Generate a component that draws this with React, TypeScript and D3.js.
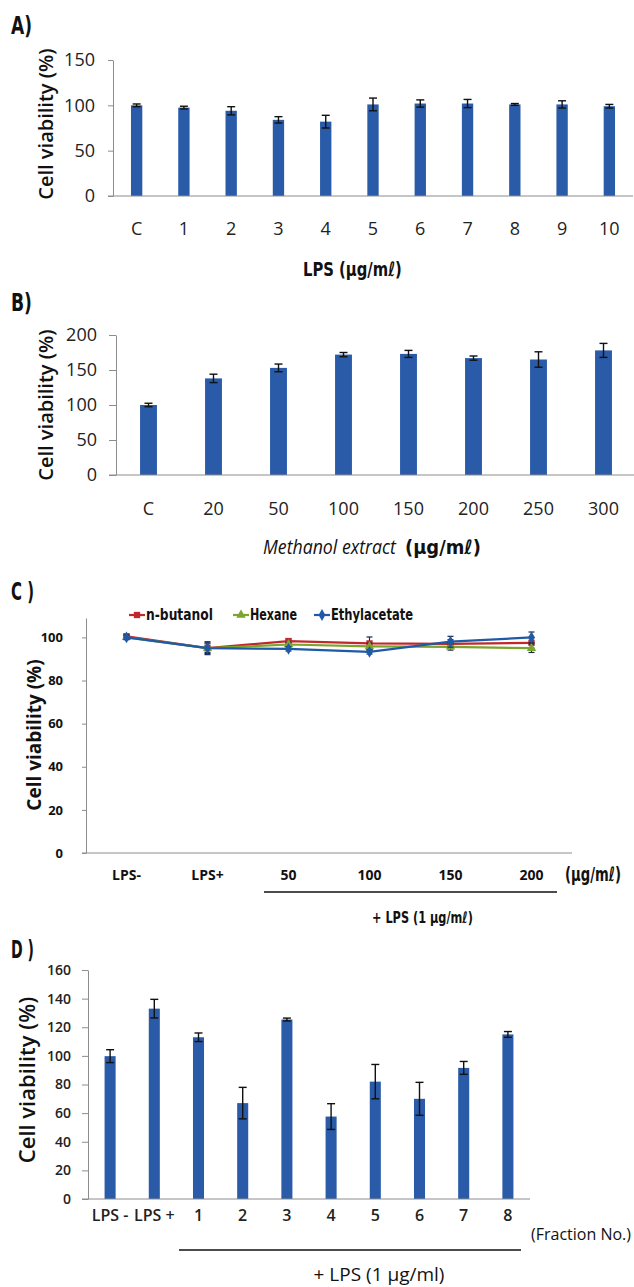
import React, { useEffect, useRef } from "react";
import * as d3 from "d3";

// A) LPS dose
const aCategories = ["C", "1", "2", "3", "4", "5", "6", "7", "8", "9", "10"];
const aValues = [100, 97.5, 94, 84, 82, 101, 102, 102, 101, 101, 99];
const aErrors = [1.5, 1.5, 4.5, 3.5, 7, 7, 4, 4.5, 1, 4, 2];
const aTicks = [0, 50, 100, 150];

// B) methanol extract
const bCategories = ["C", "20", "50", "100", "150", "200", "250", "300"];
const bValues = [100, 138, 153, 172, 173, 167, 165, 178];
const bErrors = [2.5, 6, 5.5, 3, 5, 3, 11, 10];
const bTicks = [0, 50, 100, 150, 200];

// C) solvent fractions
const cCategories = ["LPS-", "LPS+", "50", "100", "150", "200"];
const butanolValues = [100.5, 95, 98.3, 97.2, 97, 97.5];
const butanolErrors = [1, 3, 1, 3, 2, 2.5];
const hexaneValues = [100, 95, 96.7, 95.8, 95.6, 95];
const hexaneErrors = [1, 2.5, 1, 1.5, 1.5, 2];
const ethylValues = [100, 95, 94.7, 93.3, 98, 100];
const ethylErrors = [1, 2, 1, 1, 2.5, 2.5];
const cTicks = [0, 20, 40, 60, 80, 100];

// D) fractions
const dCategories = ["LPS -", "LPS +", "1", "2", "3", "4", "5", "6", "7", "8"];
const dValues = [99.8, 133, 113, 67, 125.4, 57.6, 82, 70, 91.6, 115];
const dErrors = [4.5, 6.5, 3, 11, 1, 9, 12, 11.5, 4.5, 2];
const dTicks = [0, 20, 40, 60, 80, 100, 120, 140, 160];

const BLUE = "#2a5ba8";
const AXIS = "#8c8c8c";
const SANS = "'Open Sans', 'Noto Sans', sans-serif";
const NARROW = "'Liberation Sans Narrow', 'DejaVu Sans Condensed', 'Roboto Condensed', 'Roboto', sans-serif";

// text measured, then squeezed horizontally to the width it has in the figure
function squeezed(sel, x, y, size, len, txt, family = NARROW, weight = 700, style = "normal") {
  const g = sel.append("g");
  const t = g.append("text")
    .attr("font-family", family).attr("font-size", size).attr("font-weight", weight)
    .attr("font-style", style).attr("fill", "#111")
    .text(txt);
  const w = t.node().getComputedTextLength() || len;
  g.attr("transform", `translate(${x},${y}) scale(${len / w},1)`);
  return g;
}

function barPanel(svg, o) {
  const g = svg.append("g");
  const x = d3
    .scaleBand()
    .domain(o.cats)
    .range([o.left, o.right])
    .paddingInner(o.pad)
    .paddingOuter(o.pad / 2);
  const y = d3.scaleLinear().domain([0, o.max]).range([o.bottom, o.top]);

  const ya = g
    .append("g")
    .attr("transform", `translate(${o.left},0)`)
    .call(d3.axisLeft(y).tickValues(o.ticks).tickSize(o.tickSize).tickSizeOuter(0).tickPadding(o.tickPad));
  ya.select(".domain").attr("stroke", AXIS);
  ya.selectAll(".tick line").attr("stroke", AXIS);
  ya.selectAll(".tick text")
    .attr("font-family", SANS)
    .attr("font-size", o.tickFont)
    .attr("font-weight", o.tickWeight)
    .attr("fill", "#222");

  g.selectAll("rect.bar")
    .data(o.values)
    .join("rect")
    .attr("class", "bar")
    .attr("x", (d, i) => x(o.cats[i]))
    .attr("y", (d) => y(d))
    .attr("width", x.bandwidth())
    .attr("height", (d) => y(0) - y(d))
    .attr("fill", BLUE);

  g.append("line")
    .attr("x1", o.left - o.tickSize)
    .attr("x2", o.right)
    .attr("y1", y(0))
    .attr("y2", y(0))
    .attr("stroke", AXIS);

  // error bars
  const eb = g.selectAll("g.err").data(o.values).join("g").attr("class", "err");
  eb.each(function (d, i) {
    const cx = x(o.cats[i]) + x.bandwidth() / 2;
    const e = o.errors[i];
    const s = d3.select(this);
    s.append("line").attr("x1", cx).attr("x2", cx).attr("y1", y(d - e)).attr("y2", y(d + e));
    s.append("line").attr("x1", cx - 4).attr("x2", cx + 4).attr("y1", y(d - e)).attr("y2", y(d - e));
    s.append("line").attr("x1", cx - 4).attr("x2", cx + 4).attr("y1", y(d + e)).attr("y2", y(d + e));
    s.selectAll("line").attr("stroke", "#111").attr("stroke-width", 1.4);
  });

  g.selectAll("text.xl")
    .data(o.cats)
    .join("text")
    .attr("class", "xl")
    .attr("x", (d) => x(d) + x.bandwidth() / 2)
    .attr("y", o.labelY)
    .attr("text-anchor", "middle")
    .attr("font-family", SANS)
    .attr("font-size", o.xFont)
    .attr("font-weight", o.xWeight)
    .attr("fill", "#222")
    .text((d) => d);

  g.append("text")
    .attr("transform", `translate(${o.yLabelX},${o.yLabelY}) rotate(-90)`)
    .attr("text-anchor", "middle")
    .attr("dominant-baseline", "middle")
    .attr("font-family", SANS)
    .attr("font-size", o.yLabelFont)
    .attr("font-weight", 600)
    .attr("fill", "#111")
    .text("Cell viability (%)");
  return { g, x, y };
}

export default function App() {
  const ref = useRef(null);

  useEffect(() => {
    const svg = d3.select(ref.current);
    svg.selectAll("*").remove();

    // ---------- A ----------
    squeezed(svg, 11, 34, 24, 21, "A)");
    barPanel(svg, {
      cats: aCategories, values: aValues, errors: aErrors, ticks: aTicks, max: 150,
      left: 113, right: 633, top: 60, bottom: 196, pad: 0.76,
      tickSize: 5, tickPad: 13, tickFont: 18, tickWeight: 400,
      labelY: 235, xFont: 18, xWeight: 400,
      yLabelX: 48, yLabelY: 124, yLabelFont: 20,
    });
    squeezed(svg, 303, 276, 20, 99, "LPS (μg/mℓ)");

    // ---------- B ----------
    squeezed(svg, 11, 311, 24, 21, "B)");
    barPanel(svg, {
      cats: bCategories, values: bValues, errors: bErrors, ticks: bTicks, max: 200,
      left: 116, right: 636, top: 335, bottom: 475, pad: 0.74,
      tickSize: 7, tickPad: 12, tickFont: 18, tickWeight: 400,
      labelY: 515, xFont: 18, xWeight: 400,
      yLabelX: 48, yLabelY: 405, yLabelFont: 20,
    });
    squeezed(svg, 263, 554, 20, 133, "Methanol extract", SANS, 400, "italic");
    squeezed(svg, 405, 554, 20, 76, "(μg/mℓ)");

    // ---------- C ----------
    squeezed(svg, 11, 600, 24, 23, "C )");
    const cg = svg.append("g");
    const cx = d3.scaleBand().domain(cCategories).range([86, 572]);
    const cy = d3.scaleLinear().domain([0, 109]).range([853, 618]);
    const cya = cg.append("g").attr("transform", "translate(86,0)")
      .call(d3.axisLeft(cy).tickValues(cTicks).tickSize(4).tickSizeOuter(0).tickPadding(19));
    cya.select(".domain").attr("stroke", AXIS);
    cya.selectAll(".tick line").attr("stroke", AXIS);
    cya.selectAll(".tick text").attr("font-family", SANS).attr("font-size", 13).attr("font-weight", 700).attr("fill", "#111");
    cg.append("line").attr("x1", 82).attr("x2", 572).attr("y1", cy(0)).attr("y2", cy(0)).attr("stroke", AXIS);
    cg.selectAll("text.xl").data(cCategories).join("text").attr("class", "xl")
      .attr("x", (d) => cx(d) + cx.bandwidth() / 2).attr("y", 880).attr("text-anchor", "middle")
      .attr("font-family", SANS).attr("font-size", 14).attr("font-weight", 700).attr("fill", "#111")
      .text((d) => d);
    squeezed(cg, 565, 881, 20, 56, "(μg/mℓ)");
    cg.append("line").attr("x1", 264).attr("x2", 557).attr("y1", 892).attr("y2", 892).attr("stroke", "#111").attr("stroke-width", 1.5);
    squeezed(cg, 372, 923, 16, 101, "+ LPS (1 μg/mℓ)");
    cg.append("text")
      .attr("transform", "translate(36,735) rotate(-90)")
      .attr("text-anchor", "middle").attr("dominant-baseline", "middle")
      .attr("font-family", SANS).attr("font-size", 19).attr("font-weight", 700).attr("fill", "#111")
      .text("Cell viability (%)");

    const series = [
      { name: "n-butanol", values: butanolValues, errors: butanolErrors, color: "#c0282d", shape: d3.symbolSquare, size: 40, lx: 129, tl: 67 },
      { name: "Hexane", values: hexaneValues, errors: hexaneErrors, color: "#7ba52e", shape: d3.symbolTriangle, size: 38, lx: 233, tl: 47 },
      { name: "Ethylacetate", values: ethylValues, errors: ethylErrors, color: "#1f5aa6", shape: d3.symbolDiamond, size: 40, lx: 314, tl: 82 },
    ];
    const px = (i) => cx(cCategories[i]) + cx.bandwidth() / 2;
    const line = d3.line().x((d, i) => px(i)).y((d) => cy(d));
    series.forEach((s) => {
      const sg = cg.append("g");
      sg.append("path").datum(s.values).attr("d", line).attr("fill", "none").attr("stroke", s.color).attr("stroke-width", 2.2);
      s.values.forEach((v, i) => {
        const e = s.errors[i];
        sg.append("line").attr("x1", px(i)).attr("x2", px(i)).attr("y1", cy(v - e)).attr("y2", cy(v + e)).attr("stroke", "#1a2a55").attr("stroke-width", 1.2);
        [v - e, v + e].forEach((yy) =>
          sg.append("line").attr("x1", px(i) - 3).attr("x2", px(i) + 3).attr("y1", cy(yy)).attr("y2", cy(yy)).attr("stroke", "#1a2a55").attr("stroke-width", 1.2));
      });
      sg.selectAll("path.m").data(s.values).join("path").attr("class", "m")
        .attr("transform", (d, i) => `translate(${px(i)},${cy(d)})`)
        .attr("d", d3.symbol(s.shape, s.size)).attr("fill", s.color);
      // legend
      const lg = cg.append("g").attr("transform", `translate(${s.lx},615)`);
      lg.append("line").attr("x1", 0).attr("x2", 16).attr("stroke", s.color).attr("stroke-width", 2.2);
      lg.append("path").attr("transform", "translate(8,0)").attr("d", d3.symbol(s.shape, s.size)).attr("fill", s.color);
      squeezed(lg, 17, 5, 15, s.tl, s.name);
    });

    // ---------- D ----------
    squeezed(svg, 11, 958, 24, 23, "D )");
    barPanel(svg, {
      cats: dCategories, values: dValues, errors: dErrors, ticks: dTicks, max: 160,
      left: 88, right: 530, top: 970, bottom: 1199, pad: 0.75,
      tickSize: 6, tickPad: 11, tickFont: 14, tickWeight: 600,
      labelY: 1221, xFont: 16, xWeight: 600,
      yLabelX: 29, yLabelY: 1080, yLabelFont: 22,
    });
    svg.append("text").attr("x", 531).attr("y", 1240)
      .attr("font-family", SANS).attr("font-size", 16).attr("fill", "#111").text("(Fraction No.)");
    svg.append("line").attr("x1", 179).attr("x2", 521).attr("y1", 1250).attr("y2", 1250).attr("stroke", "#111").attr("stroke-width", 1.5);
    svg.append("text").attr("x", 379).attr("y", 1281).attr("text-anchor", "middle")
      .attr("font-family", SANS).attr("font-size", 19).attr("font-weight", 500).attr("fill", "#111").text("+ LPS (1 μg/ml)");
  }, []);

  return (
    <svg
      ref={ref}
      width={634}
      height={1287}
      style={{ position: "absolute", left: 0, top: 0, background: "#fff" }}
    />
  );
}
